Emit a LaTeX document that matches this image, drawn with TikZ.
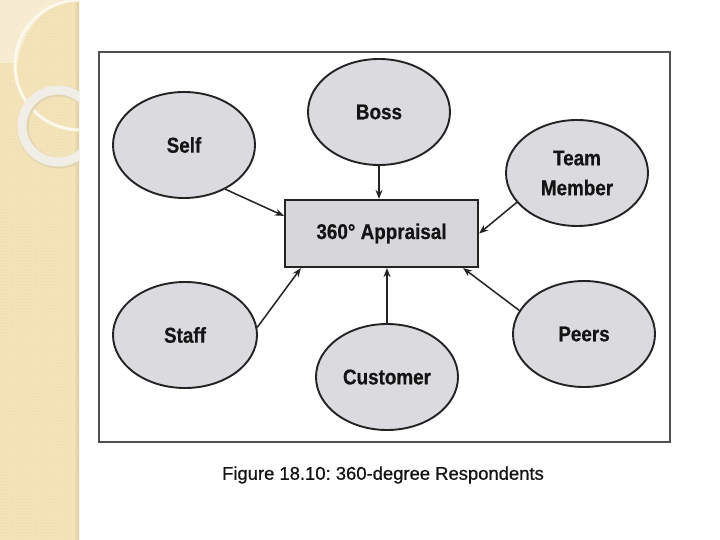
\documentclass[tikz,border=0pt]{standalone}
\usepackage{fontspec}
\setmainfont{Liberation Sans}
\newfontfamily\labfont{Liberation Sans}[FakeStretch=0.88,FakeBold=0.6]
\newfontfamily\capfont{Liberation Sans}[FakeBold=0.7]
\usetikzlibrary{shapes.geometric,arrows.meta,calc,patterns}
\definecolor{stripbeige}{RGB}{245,229,188}
\definecolor{stripdots}{RGB}{234,214,166}
\definecolor{stripedge}{RGB}{222,204,160}
\definecolor{creamline}{RGB}{252,248,236}
\definecolor{ringcol}{RGB}{240,238,230}
\definecolor{ringshadow}{RGB}{226,212,176}
\definecolor{framecol}{RGB}{80,80,80}
\definecolor{ellfill}{RGB}{218,218,223}
\definecolor{boxfill}{RGB}{214,214,219}
\definecolor{inkcol}{RGB}{35,35,35}
\definecolor{textcol}{RGB}{20,20,20}
\tikzset{
  respondent/.style={ellipse, draw=inkcol, line width=1.9bp, fill=ellfill,
    minimum width=142bp, minimum height=106bp, inner sep=0pt, align=center,
    text=textcol, font=\labfont\bfseries\fontsize{21.5}{30}\selectfont},
  centrebox/.style={rectangle, draw=inkcol, line width=2.2bp, fill=boxfill,
    minimum width=193bp, minimum height=67bp, inner sep=0pt,
    text=textcol, font=\labfont\bfseries\fontsize{21.5}{30}\selectfont},
  feed/.style={draw=inkcol, line width=1.5bp, -{Stealth[length=9bp,width=7bp]}},
}
\begin{document}
\frenchspacing
\begin{tikzpicture}[x=1bp,y=-1bp]
\useasboundingbox (0,0) rectangle (720,540);
\fill[white] (0,0) rectangle (720,540);
% decorative left strip
\fill[stripbeige] (0,0) rectangle (79,540);
\fill[pattern=crosshatch dots, pattern color=stripdots] (0,0) rectangle (79,540);
\shade[left color=stripbeige, right color=stripedge] (73,0) rectangle (79,540);
\begin{scope}
  \clip (0,0) rectangle (79,540);
  \fill[white, opacity=0.35] (0,0) -- (63,0) .. controls (38,12) and (20,38) .. (18,63) -- (0,63) -- cycle;
  \draw[line width=3bp, creamline] (80,65) circle[radius=65bp];
  \draw[line width=11bp, ringshadow] (59,127) circle[radius=36bp];
  \draw[line width=9bp, ringcol] (58,126) circle[radius=36bp];
\end{scope}
% figure frame
\draw[line width=2.8bp, framecol] (99,52) rectangle (670,442);
% nodes
\node[centrebox] (box) at (381.5,233.5) {360° Appraisal};
\node[respondent] (self) at (184,145) {Self};
\node[respondent] (boss) at (379,112) {Boss};
\node[respondent] (team) at (577,173) {Team\\Member};
\node[respondent, minimum width=144bp] (staff) at (185,335) {Staff};
\node[respondent] (customer) at (387,377) {Customer};
\node[respondent] (peers) at (584,334) {Peers};
% connectors
\draw[feed] (self.-47) -- ([yshift=-17bp]box.north west);
\draw[feed] (boss.south) -- (boss.south |- box.north);
\draw[feed] (team.206) -- (box.east);
\draw[feed] (staff.6) -- ([xshift=17bp]box.south west);
\draw[feed] (customer.north) -- (customer.north |- box.south);
\draw[feed] (peers.160) -- ([xshift=-16bp]box.south east);
% caption
\node[text=textcol, font=\capfont\fontsize{18.5}{22}\selectfont] (caption) at (383,475) {Figure 18.10: 360-degree Respondents};
\end{tikzpicture}
\end{document}
